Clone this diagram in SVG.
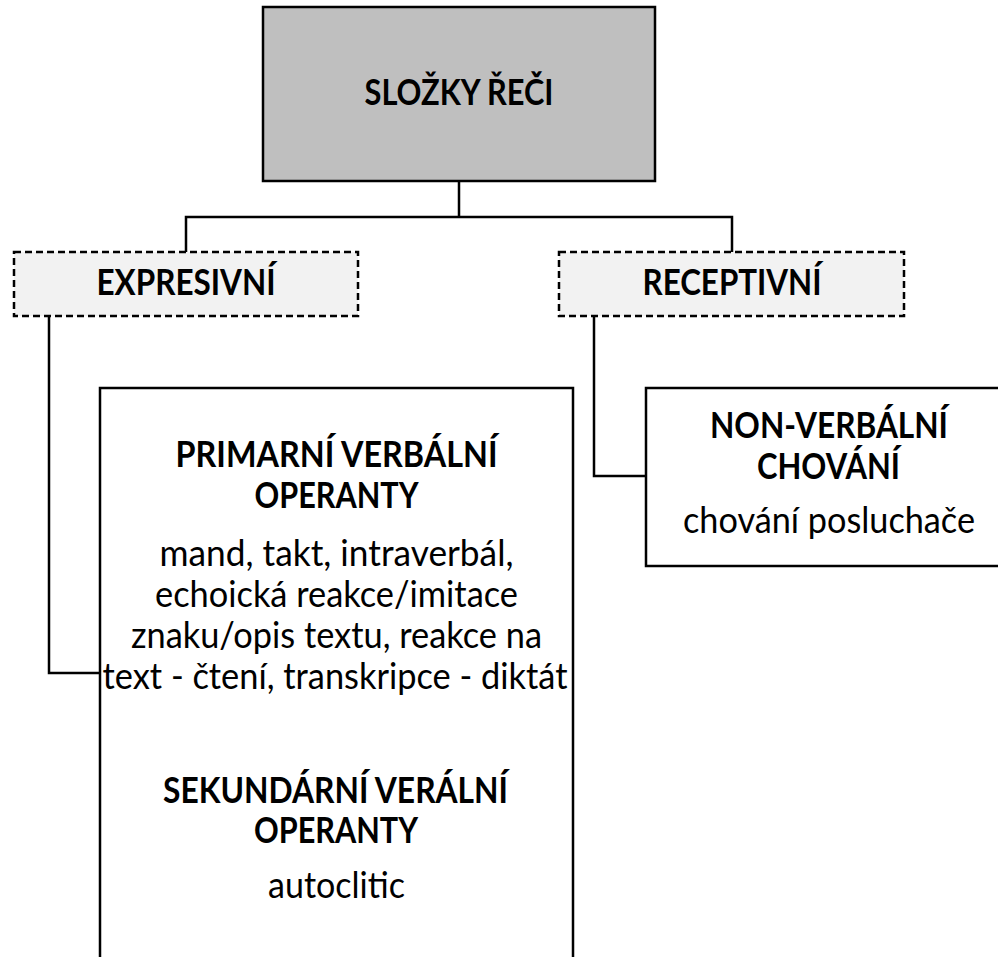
<svg xmlns="http://www.w3.org/2000/svg" width="998" height="957" viewBox="0 0 998 957">
<style>
.box{stroke:#000;stroke-width:2.5}
.dash{stroke:#000;stroke-width:2.5;stroke-dasharray:7 4;fill:#f2f2f2}
.con{fill:none;stroke:#000;stroke-width:2.5}
text{font-family:Lato,"Liberation Sans",sans-serif;font-size:36px;fill:#000;text-anchor:middle}
.b{font-weight:bold}
</style>
<rect width="998" height="957" fill="#fff"/>
<g id="connectors">
<path class="con" d="M459 181 V217 M186 252 V217 H732 V252"/>
<path class="con" d="M49 316 V673 H100"/>
<path class="con" d="M594 316 V476 H646"/>
</g>
<g id="slozky-reci">
<rect class="box" x="263" y="7" width="392" height="174" fill="#bfbfbf"/>
<text class="b" x="459" y="105" textLength="189" lengthAdjust="spacingAndGlyphs">SLOŽKY ŘEČI</text>
</g>
<g id="expresivni">
<rect class="dash" x="14" y="252" width="344" height="64"/>
<text class="b" x="186" y="295" textLength="179" lengthAdjust="spacingAndGlyphs">EXPRESIVNÍ</text>
</g>
<g id="receptivni">
<rect class="dash" x="559" y="252" width="345" height="64"/>
<text class="b" x="732" y="295" textLength="179" lengthAdjust="spacingAndGlyphs">RECEPTIVNÍ</text>
</g>
<g id="verbalni-operanty">
<rect class="box" x="100" y="388" width="473" height="600" fill="#fff"/>
<text class="b" x="336.5" y="467" textLength="322" lengthAdjust="spacingAndGlyphs">PRIMARNÍ VERBÁLNÍ</text>
<text class="b" x="336.5" y="508" textLength="164" lengthAdjust="spacingAndGlyphs">OPERANTY</text>
<text x="336.5" y="566" textLength="354" lengthAdjust="spacingAndGlyphs">mand, takt, intraverbál,</text>
<text x="336.5" y="607" textLength="363" lengthAdjust="spacingAndGlyphs">echoická reakce/imitace</text>
<text x="336.5" y="648" textLength="411" lengthAdjust="spacingAndGlyphs">znaku/opis textu, reakce na</text>
<text x="335" y="689" textLength="465" lengthAdjust="spacingAndGlyphs">text - čtení, transkripce - diktát</text>
<text class="b" x="335.5" y="803" textLength="345" lengthAdjust="spacingAndGlyphs">SEKUNDÁRNÍ VERÁLNÍ</text>
<text class="b" x="336" y="843" textLength="164" lengthAdjust="spacingAndGlyphs">OPERANTY</text>
<text x="336.5" y="898" textLength="137" lengthAdjust="spacingAndGlyphs">autoclitic</text>
</g>
<g id="non-verbalni">
<rect class="box" x="646" y="388" width="366" height="178" fill="#fff"/>
<text class="b" x="829" y="438" textLength="238" lengthAdjust="spacingAndGlyphs">NON-VERBÁLNÍ</text>
<text class="b" x="828.5" y="479" textLength="143" lengthAdjust="spacingAndGlyphs">CHOVÁNÍ</text>
<text x="829" y="533" textLength="292" lengthAdjust="spacingAndGlyphs">chování posluchače</text>
</g>
</svg>
